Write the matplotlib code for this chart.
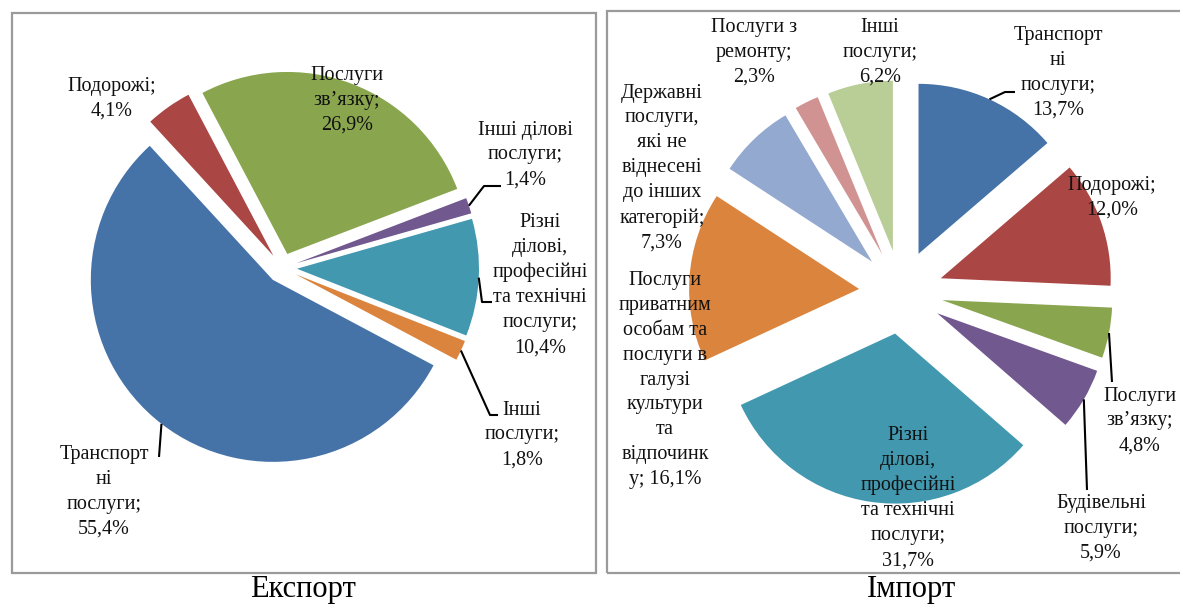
import numpy as np
import matplotlib
matplotlib.use('Agg')
import matplotlib.pyplot as plt
from matplotlib.patches import Rectangle

plt.rcParams['font.family'] = ['Liberation Serif', 'DejaVu Serif']

W, H = 1180, 605

# Експорт
exp_names = ['Транспорт\nні\nпослуги', 'Подорожі', 'Послуги\nзв’язку',
             'Інші ділові\nпослуги', 'Різні\nділові,\nпрофесійні\nта технічні\nпослуги',
             'Інші\nпослуги']
exp_values = [55.4, 4.1, 26.9, 1.4, 10.4, 1.8]
exp_colors = ['#4572A7', '#AA4643', '#89A54E', '#71588F', '#4198AF', '#DB843D']

# Імпорт
imp_names = ['Транспорт\nні\nпослуги', 'Подорожі', 'Послуги\nзв’язку',
             'Будівельні\nпослуги', 'Різні\nділові,\nпрофесійні\nта технічні\nпослуги',
             'Послуги\nприватним\nособам та\nпослуги в\nгалузі\nкультури\nта\nвідпочинк\nу',
             'Державні\nпослуги,\nякі не\nвіднесені\nдо інших\nкатегорій',
             'Послуги з\nремонту', 'Інші\nпослуги']
imp_values = [13.7, 12.0, 4.8, 5.9, 31.7, 16.1, 7.3, 2.3, 6.2]
imp_colors = ['#4572A7', '#AA4643', '#89A54E', '#71588F', '#4198AF', '#DB843D',
              '#93A9CF', '#D19392', '#B9CD96']
imp_same_line = [5]   # відсоток на тому ж рядку

# розташування підписів (пікселі картинки, y зверху)
exp_label_pos = [(104, 492), (112, 99), (347, 100), (525, 155), (540, 285), (522, 435)]
imp_label_pos = [(1058, 73), (1112, 198), (1140, 421), (1101, 528), (908, 498),
                 (665, 380), (662, 168), (754, 52), (880, 52)]
# виносні лінії: індекс сектора -> точки зламу
exp_leaders = {0: [(159, 457)], 3: [(484, 186), (501, 186)],
               4: [(482, 302), (492, 302)], 5: [(490, 415), (498, 415)]}
imp_leaders = {0: [(1005, 92), (1015, 92)], 2: [(1112, 382)], 3: [(1087, 490)]}


def fy(y):
    return H - y


def fmt(v):
    return f"{v:.1f}".replace('.', ',') + '%'


def draw_pie(ax, values, names, colors, center, r, expl, start, label_pos, leaders, same_line=()):
    wedges, _ = ax.pie(values, colors=colors, startangle=start, counterclock=False,
                       explode=[expl] * len(values), radius=r,
                       center=(center[0], fy(center[1])), frame=True,
                       wedgeprops=dict(linewidth=0))
    for i, (name, v) in enumerate(zip(names, values)):
        sep = '; ' if i in same_line else ';\n'
        x, y = label_pos[i]
        ax.text(x, fy(y), name + sep + fmt(v), ha='center', va='center',
                multialignment='center', fontsize=14.5, linespacing=1.42, color='#111111')
    for i, pts in leaders.items():
        w = wedges[i]
        mid = np.deg2rad((w.theta1 + w.theta2) / 2)
        xs = [w.center[0] + w.r * np.cos(mid)] + [p[0] for p in pts]
        ys = [w.center[1] + w.r * np.sin(mid)] + [fy(p[1]) for p in pts]
        ax.plot(xs, ys, color='black', lw=1.5, solid_capstyle='butt')


fig = plt.figure(figsize=(11.8, 6.05), dpi=100)
ax = fig.add_axes([0, 0, 1, 1])

ax.add_patch(Rectangle((12, fy(573)), 584, 560, fill=False, ec='#9a9a9a', lw=1.6))
ax.add_patch(Rectangle((607, fy(573)), 600, 562, fill=False, ec='#9a9a9a', lw=1.6))

draw_pie(ax, exp_values, exp_names, exp_colors, (282, 268), 182, 15, 332,
         exp_label_pos, exp_leaders)
draw_pie(ax, imp_values, imp_names, imp_colors, (901, 292), 170, 42, 90,
         imp_label_pos, imp_leaders, imp_same_line)

ax.text(303, fy(590), 'Експорт', ha='center', va='center', fontsize=22)
ax.text(911, fy(590), 'Імпорт', ha='center', va='center', fontsize=22)

ax.set_xlim(0, W)
ax.set_ylim(0, H)
ax.set_aspect('equal')
ax.axis('off')

fig.savefig('out.png', dpi=100)
